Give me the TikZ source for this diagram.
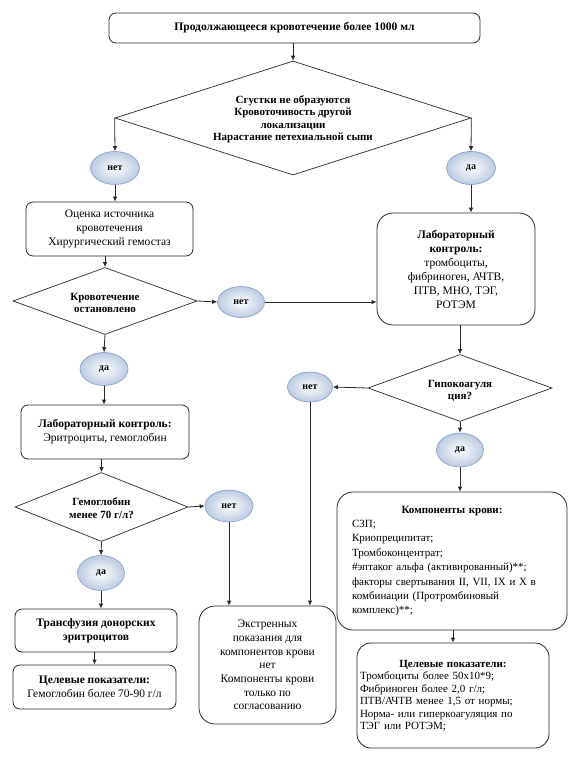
\documentclass[tikz,border=0pt]{standalone}
\usepackage{fontspec}
\setmainfont{Liberation Serif}
\usetikzlibrary{shapes.geometric,arrows.meta}
\definecolor{ovalout}{RGB}{188,202,224}
\definecolor{ovalrim}{RGB}{135,158,200}
\definecolor{linec}{RGB}{40,40,40}
\tikzset{
  box/.style={draw=linec, line width=0.8pt, rounded corners=7pt, align=center, inner sep=2pt,
    font=\fontsize{11.5}{14}\selectfont},
  bigbox/.style={box, rounded corners=16pt},
  dia/.style={draw=linec, line width=0.7pt, diamond, inner sep=0pt},
  diatext/.style={align=center, inner sep=0pt, font=\fontsize{11}{12.5}\selectfont\bfseries},
  oval/.style={ellipse, draw=ovalrim, line width=0.6pt, inner color=white, outer color=ovalout,
    inner sep=0pt, font=\fontsize{10}{12}\selectfont\bfseries},
  arr/.style={draw=linec, -{Latex[length=5pt,width=4.5pt]}, line width=0.8pt}
}
\begin{document}
\begin{tikzpicture}[x=1pt,y=-1pt]
\path[use as bounding box, fill=white] (0,0) rectangle (575,757);

% top
\node[box, minimum width=371pt, minimum height=30pt, font=\fontsize{11.5}{14}\selectfont\bfseries] (top) at (294.5,28)
  {Продолжающееся кровотечение более 1000 мл};
\node[dia, minimum width=356pt, minimum height=114pt] (d1) at (293,118) {};
\node[diatext] (d1t) at (293,119)
  {Сгустки не образуются\\Кровоточивость другой\\локализации\\Нарастание петехиальной сыпи};
\node[oval, minimum width=49pt, minimum height=33pt] (n1) at (115,168) {нет};
\node[oval, minimum width=49pt, minimum height=33pt] (y1) at (471,168) {да};

% left branch
\node[box, minimum width=167pt, minimum height=54pt] (b1) at (109.5,229)
  {Оценка источника\\кровотечения\\Хирургический гемостаз};
\node[dia, minimum width=184pt, minimum height=67pt] (d2) at (105,301) {};
\node[diatext] (d2t) at (105,303) {Кровотечение\\остановлено};
\node[oval, minimum width=47pt, minimum height=31pt] (n2) at (241,302) {нет};
\node[oval, minimum width=48pt, minimum height=33pt] (y2) at (104,369) {да};
\node[box, minimum width=168pt, minimum height=54pt] (b2) at (105,432)
  {\textbf{Лабораторный контроль:}\\Эритроциты, гемоглобин};
\node[dia, minimum width=173pt, minimum height=69pt] (d3) at (101.5,507) {};
\node[diatext] (d3t) at (101.5,508) {Гемоглобин\\менее 70 г/л?};
\node[oval, minimum width=48pt, minimum height=32pt] (n3) at (229,506) {нет};
\node[oval, minimum width=47pt, minimum height=35pt] (y3) at (101,573) {да};
\node[box, minimum width=162pt, minimum height=43pt, font=\fontsize{11.5}{14}\selectfont\bfseries] (b3) at (96,630.5)
  {Трансфузия донорских\\эритроцитов};
\node[box, minimum width=163pt, minimum height=44pt] (b4) at (94.5,687)
  {\textbf{Целевые показатели:}\\Гемоглобин более 70-90 г/л};

% right branch
\node[bigbox, minimum width=158pt, minimum height=112pt] (lab) at (456,269)
  {\textbf{Лабораторный}\\\textbf{контроль:}\\тромбоциты,\\фибриноген, АЧТВ,\\ПТВ, МНО, ТЭГ,\\РОТЭМ};
\node[dia, minimum width=184pt, minimum height=67pt] (d4) at (460,388) {};
\node[diatext] (d4t) at (460,391) {Гипокоагуля\\ция?};
\node[oval, minimum width=45pt, minimum height=30pt] (n4) at (310,387) {нет};
\node[oval, minimum width=47pt, minimum height=34pt] (y4) at (460,450) {да};
\node[bigbox, minimum width=230pt, minimum height=138pt, text width=200pt, align=left,
  font=\fontsize{11}{14.4}\selectfont] (b5) at (452,561)
  {\makebox[\linewidth]{\textbf{Компоненты крови:}}\\СЗП;\\Криопреципитат;\\Тромбоконцентрат;\\
   \#эптаког альфа (активированный)**;\\факторы свертывания II, VII, IX и X в\\
   комбинации (Протромбиновый\\комплекс)**;};
\node[bigbox, minimum width=137pt, minimum height=118pt, font=\fontsize{11.5}{13.7}\selectfont] (b6) at (267.5,665)
  {Экстренных\\показания для\\компонентов крови\\нет\\Компоненты крови\\только по\\согласованию};
\node[bigbox, rounded corners=14pt, minimum width=192pt, minimum height=105pt, text width=186pt, align=left,
  font=\fontsize{11}{12.5}\selectfont] (b7) at (453,695.5)
  {\makebox[\linewidth]{\textbf{Целевые показатели:}}\\Тромбоциты более 50x10*9;\\Фибриноген более 2,0 г/л;\\
   ПТВ/АЧТВ менее 1,5 от нормы;\\Норма- или гиперкоагуляция по\\ТЭГ или РОТЭМ;};

% connectors
\draw[arr] (d1.north |- top.south) -- (d1.north);
\draw[arr] (d1.west) -- (n1.north);
\draw[arr] (d1.east) -- (y1.north);
\draw[arr] (n1.south) -- (n1.south |- b1.north);
\draw[arr] (y1.south) -- (y1.south |- lab.north);
\draw[arr] (d2.north |- b1.south) -- (d2.north);
\draw[arr] (d2.east) -- (n2.west);
\draw[arr] (n2.east) -- (n2.east -| lab.west);
\draw[arr] (d2.south) -- (y2.north);
\draw[arr] (y2.south) -- (y2.south |- b2.north);
\draw[arr] (d3.north |- b2.south) -- (d3.north);
\draw[arr] (d3.east) -- (n3.west);
\draw[arr] (n3.south) -- (n3.south |- b6.north);
\draw[arr] (d3.south) -- (y3.north);
\draw[arr] (y3.south) -- (y3.south |- b3.north);
\draw[arr] (b4.north |- b3.south) -- (b4.north);
\draw[arr] (d4.north |- lab.south) -- (d4.north);
\draw[arr] (d4.west) -- (n4.east);
\draw[arr] (n4.south) -- (n4.south |- b6.north);
\draw[arr] (d4.south) -- (y4.north);
\draw[arr] (y4.south) -- (y4.south |- b5.north);
\draw[arr] (b7.north |- b5.south) -- (b7.north);
\end{tikzpicture}
\end{document}
